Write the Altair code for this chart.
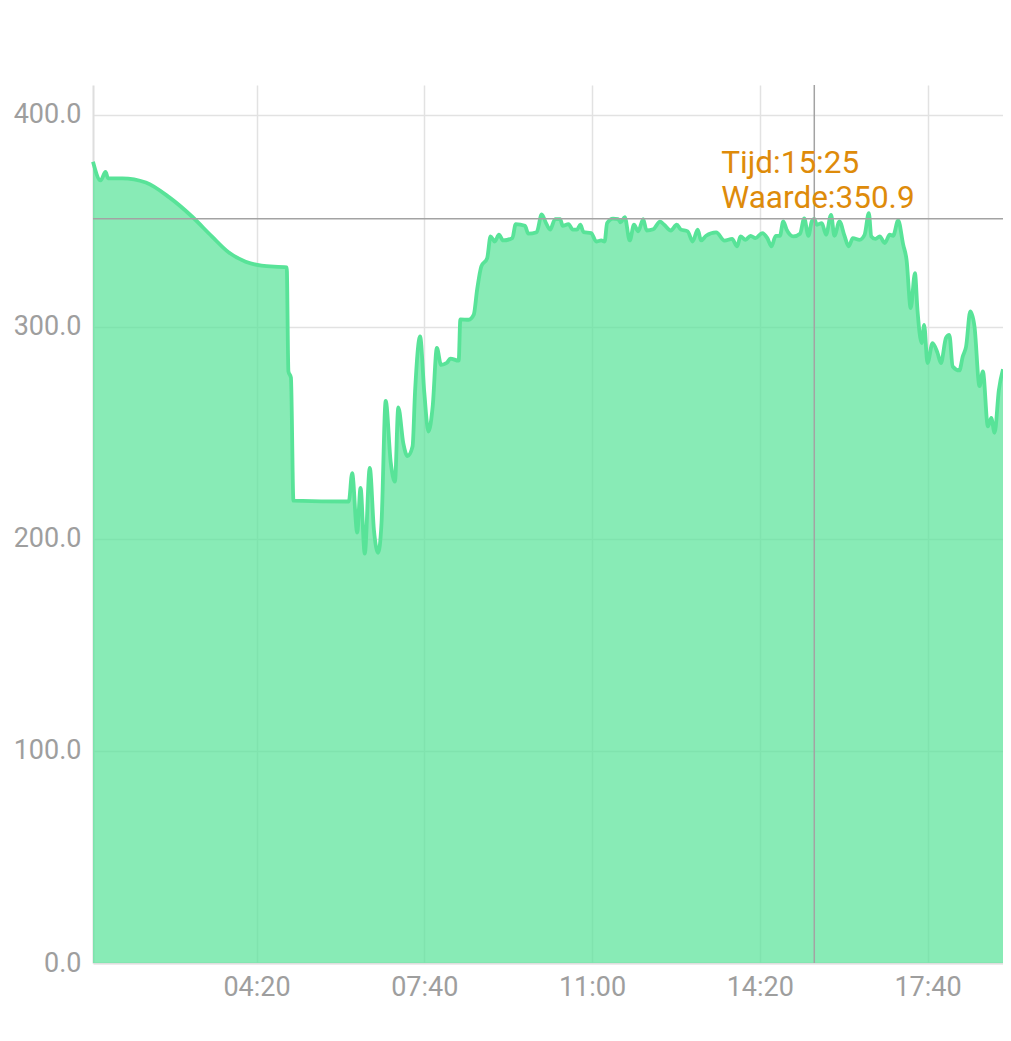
import altair as alt
import pandas as pd

# ---- data ----
times = [
    "01:05", "01:14", "01:20", "01:23", "01:40", "02:08", "02:36", "03:03", "03:27", "03:47",
    "04:07", "04:26", "04:56", "04:58", "05:01", "05:04", "06:10", "06:14", "06:20", "06:24",
    "06:29", "06:35", "06:40", "06:45", "06:49", "06:54", "07:00", "07:05", "07:09", "07:15",
    "07:20", "07:26", "07:29", "07:35", "07:40", "07:45", "07:50", "07:55", "08:00", "08:07",
    "08:11", "08:21", "08:23", "08:33", "08:39", "08:43", "08:48", "08:55", "08:59", "09:04",
    "09:09", "09:14", "09:25", "09:29", "09:40", "09:44", "09:54", "10:00", "10:05", "10:10",
    "10:16", "10:22", "10:25", "10:32", "10:37", "10:42", "10:46", "10:50", "10:59", "11:05",
    "11:11", "11:15", "11:18", "11:25", "11:31", "11:34", "11:39", "11:45", "11:50", "11:55",
    "12:01", "12:05", "12:13", "12:21", "12:26", "12:34", "12:41", "12:46", "12:54", "13:00",
    "13:06", "13:10", "13:16", "13:28", "13:38", "13:47", "13:53", "13:57", "14:03", "14:09",
    "14:15", "14:23", "14:29", "14:34", "14:39", "14:44", "14:48", "14:52", "15:00", "15:08",
    "15:13", "15:18", "15:22", "15:25", "15:28", "15:34", "15:39", "15:45", "15:49", "15:55",
    "16:01", "16:06", "16:11", "16:19", "16:25", "16:30", "16:33", "16:38", "16:43", "16:49",
    "16:55", "16:59", "17:05", "17:11", "17:15", "17:20", "17:25", "17:28", "17:33", "17:36",
    "17:40", "17:46", "17:52", "17:56", "18:02", "18:06", "18:10", "18:18", "18:22", "18:26",
    "18:31", "18:36", "18:42", "18:46", "18:52", "18:56", "19:00", "19:05", "19:10",
]
values = [
    377.8, 369.0, 373.0, 370.0, 370.0, 368.0, 361.0, 352.0, 342.5, 335.0,
    330.7, 328.8, 328.0, 279.0, 276.0, 218.0, 217.6, 231.0, 203.0, 224.0,
    193.0, 233.5, 204.0, 193.4, 207.5, 265.0, 236.0, 227.0, 262.0, 245.0,
    239.0, 243.5, 269.5, 295.4, 269.0, 250.6, 262.4, 290.0, 282.0, 283.0,
    285.0, 284.0, 303.5, 303.3, 305.7, 317.5, 328.5, 332.4, 342.6, 340.2,
    343.4, 340.7, 341.8, 348.4, 347.6, 343.9, 344.6, 353.0, 349.0, 345.8,
    350.8, 350.8, 347.6, 348.4, 345.8, 345.8, 348.1, 344.6, 344.2, 340.2,
    340.7, 340.2, 348.9, 351.0, 350.8, 349.2, 351.7, 340.7, 348.1, 345.0,
    350.8, 345.4, 346.0, 349.6, 348.1, 345.4, 348.1, 345.8, 345.0, 340.2,
    345.8, 340.7, 342.9, 344.5, 340.6, 341.4, 337.9, 342.6, 341.0, 342.9,
    341.8, 344.2, 341.8, 337.9, 342.9, 342.9, 349.7, 345.8, 342.6, 343.9,
    351.1, 342.9, 349.7, 350.9, 348.1, 348.9, 343.4, 352.8, 342.9, 349.7,
    342.9, 337.9, 341.8, 341.0, 343.4, 353.6, 342.6, 341.4, 342.6, 339.5,
    343.4, 342.9, 350.1, 338.7, 331.6, 308.8, 325.3, 308.0, 292.3, 300.9,
    282.9, 292.3, 287.6, 282.9, 294.7, 296.2, 281.3, 279.4, 286.0, 290.7,
    307.2, 300.1, 272.0, 279.0, 253.0, 257.0, 250.0, 270.0, 280.0,
]

x_tick_labels = ["04:20", "07:40", "11:00", "14:20", "17:40"]
y_ticks = [0, 100, 200, 300, 400]
y_max = 414

cross_time = "15:25"
cross_value = 350.9
label_time = "Tijd:" + cross_time
label_value = "Waarde:" + str(cross_value)

DAY = "2024-01-01 "


def hm(s):
    h, m = s.split(":")
    return alt.DateTime(year=2024, month=1, date=1, hours=int(h), minutes=int(m))


df = pd.DataFrame({"time": pd.to_datetime([DAY + t for t in times]), "value": values})
cross_df = pd.DataFrame({
    "time": pd.to_datetime([DAY + cross_time]),
    "value": [cross_value],
    "l1": [label_time],
    "l2": [label_value],
})

LINE = "#58e398"
FILL = "#5ae39a"
GRAY_TXT = "#9e9e9e"
ORANGE = "#de8b0a"

x_enc = alt.X(
    "time:T",
    scale=alt.Scale(domain=[hm(times[0]), hm(times[-1])], nice=False),
    axis=alt.Axis(values=[hm(t) for t in x_tick_labels], format="%H:%M", title=None,
                  labelPadding=11, grid=True),
)
y_enc = alt.Y(
    "value:Q",
    scale=alt.Scale(domain=[0, y_max], nice=False),
    axis=alt.Axis(values=y_ticks, format=".1f", title=None, labelPadding=12, grid=True),
)

base = alt.Chart(df)
area = base.mark_area(interpolate="monotone", color=FILL, opacity=0.72).encode(x=x_enc, y=y_enc)
line = base.mark_line(interpolate="monotone", color=LINE, strokeWidth=3.8).encode(x=x_enc, y=y_enc)

cb = alt.Chart(cross_df)
vrule = cb.mark_rule(color="#a3a3a3", strokeWidth=1.5).encode(x="time:T")
hrule = cb.mark_rule(color="#a3a3a3", strokeWidth=1.5).encode(y="value:Q")
t1 = cb.mark_text(align="left", baseline="alphabetic", dx=-93, dy=-46, font="Roboto",
                  fontSize=31.5, color=ORANGE).encode(x="time:T", y="value:Q", text="l1:N")
t2 = cb.mark_text(align="left", baseline="alphabetic", dx=-93, dy=-11, font="Roboto",
                  fontSize=31.5, color=ORANGE).encode(x="time:T", y="value:Q", text="l2:N")

chart = alt.layer(area, line, hrule, vrule, t1, t2).properties(
    width=910,
    height=878,
    padding={"left": 85, "top": 77, "right": 0, "bottom": 60},
    autosize=alt.AutoSizeParams(type="none"),
).configure_view(stroke=None).configure_axis(
    gridColor="#e2e2e2",
    gridWidth=1.5,
    domainColor="#dedede",
    domainWidth=2,
    ticks=False,
    labelColor=GRAY_TXT,
    labelFont="Roboto",
    labelFontSize=27,
)

chart.save("out.html", embed_options={"renderer": "svg", "actions": False})
